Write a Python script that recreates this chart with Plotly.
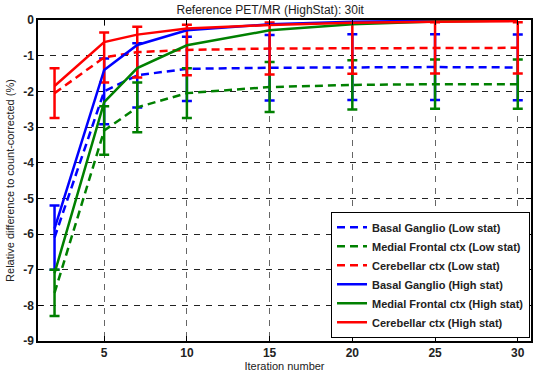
import plotly.graph_objects as go

iterations = [2, 5, 7, 10, 15, 20, 25, 30]

bg_low = [-6.1, -2.0, -1.55, -1.37, -1.34, -1.32, -1.32, -1.33]
mf_low = [-7.65, -3.1, -2.45, -2.05, -1.88, -1.82, -1.8, -1.8]
cb_low = [-2.05, -1.05, -0.9, -0.84, -0.8, -0.79, -0.78, -0.78]

bg_low_err = [0.9, 0.92, 0.9, 0.9, 0.92, 0.92, 0.92, 0.92]
mf_low_err = [0.65, 0.68, 0.7, 0.7, 0.7, 0.69, 0.69, 0.69]
cb_low_err = [0.7, 0.7, 0.71, 0.71, 0.73, 0.72, 0.72, 0.72]

bg_high = [-5.85, -1.4, -0.7, -0.29, -0.12, -0.05, -0.02, -0.01]
mf_high = [-7.1, -2.3, -1.35, -0.71, -0.29, -0.12, -0.04, -0.01]
cb_high = [-1.85, -0.62, -0.41, -0.24, -0.14, -0.08, -0.05, -0.03]

names = [
    "Basal Ganglio (Low stat)",
    "Medial Frontal ctx (Low stat)",
    "Cerebellar ctx (Low stat)",
    "Basal Ganglio (High stat)",
    "Medial Frontal ctx (High stat)",
    "Cerebellar ctx (High stat)",
]

x_ticks = [5, 10, 15, 20, 25, 30]
y_ticks = [0, -1, -2, -3, -4, -5, -6, -7, -8, -9]
y_ticktext = ["0", "-1", "-2", "-3", "-4", "-5", "-6", "-7", "-8", "-9"]

BLUE = "#0000ff"
GREEN = "#008000"
RED = "#ff0000"

fig = go.Figure()

low_sets = [(bg_low, bg_low_err, BLUE), (mf_low, mf_low_err, GREEN), (cb_low, cb_low_err, RED)]
for (vals, err, col), nm in zip(low_sets, names[:3]):
    fig.add_trace(go.Scatter(
        x=iterations, y=vals, mode="lines", name=nm,
        line=dict(color=col, width=2.5, dash="8px,5px"),
        error_y=dict(type="data", array=err, symmetric=True, color=col, thickness=2.5, width=5),
    ))

high_sets = [(bg_high, BLUE), (mf_high, GREEN), (cb_high, RED)]
for (vals, col), nm in zip(high_sets, names[3:]):
    fig.add_trace(go.Scatter(
        x=iterations, y=vals, mode="lines", name=nm,
        line=dict(color=col, width=2.5),
    ))

fig.update_layout(
    width=533, height=373,
    margin=dict(l=38, r=0, t=20, b=32),
    paper_bgcolor="white", plot_bgcolor="white",
    font=dict(family="Liberation Sans, Arial, sans-serif", size=11, color="black"),
    title=dict(text="Reference PET/MR (HighStat): 30it", x=0.507, xanchor="center",
               y=0.985, yanchor="top", font=dict(size=12, color="#222")),
    showlegend=True,
    legend=dict(x=0.998, xanchor="right", y=0.01, yanchor="bottom",
                bgcolor="white", bordercolor="black", borderwidth=1,
                font=dict(size=11, weight="bold", color="#222"),
                tracegroupgap=0, itemwidth=30),
)

fig.update_xaxes(
    range=[1, 30.8], tickvals=x_ticks, ticks="inside", ticklen=5, tickcolor="black",
    showline=True, linecolor="black", linewidth=1.5, mirror="ticks",
    showgrid=True, gridcolor="#666", griddash="6px,6px", gridwidth=1,
    zeroline=False,
    tickfont=dict(size=12, weight="bold", color="#222"),
    title=dict(text="Iteration number", standoff=0, font=dict(size=11, color="#222")),
)
fig.update_yaxes(
    range=[-9, 0], tickvals=y_ticks, ticktext=y_ticktext, ticks="inside", ticklen=5, tickcolor="black",
    showline=True, linecolor="black", linewidth=1.5, mirror="ticks",
    showgrid=True, gridcolor="#222", griddash="6px,6px", gridwidth=1,
    zeroline=False,
    tickfont=dict(size=12, weight="bold", color="#222"),
    title=dict(text="Relative difference to count-corrected (%)", standoff=6, font=dict(size=11, color="#222")),
)

fig.write_html("out.html")
